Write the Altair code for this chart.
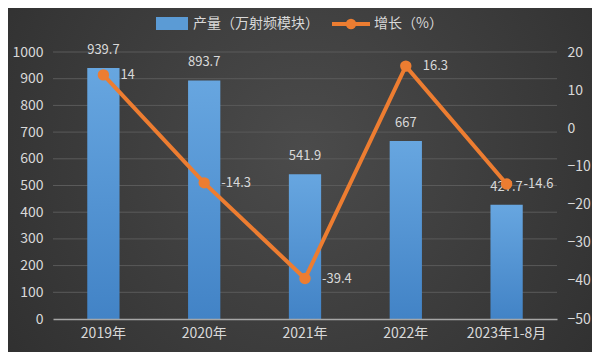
import altair as alt
import pandas as pd

categories = ["2019年", "2020年", "2021年", "2022年", "2023年1-8月"]
output = [939.7, 893.7, 541.9, 667, 427.7]
growth = [14, -14.3, -39.4, 16.3, -14.6]
left_ticks = [0, 100, 200, 300, 400, 500, 600, 700, 800, 900, 1000]
right_ticks = [-50, -40, -30, -20, -10, 0, 10, 20]
legend_names = ["产量（万射频模块）", "增长（%）"]

df = pd.DataFrame({"cat": categories, "output": output, "growth": growth})
df["out_label"] = [f"{v:g}" for v in output]
df["gr_label"] = [f"{v:g}" for v in growth]
grid_df = pd.DataFrame({"output": left_ticks[1:]})

FONT = "Noto Sans CJK SC"
TXT = "#d9d9d9"
ORANGE = "#ED7D31"

xenc = alt.X("cat:N", sort=categories, title=None,
             scale=alt.Scale(paddingInner=0.68, paddingOuter=0.34),
             axis=alt.Axis(labelAngle=0, labelColor=TXT, labelFontSize=14, labelFont=FONT,
                           ticks=False, domainColor="#a6a6a6", domainWidth=1.5, labelPadding=7,
                           zindex=1))

yleft_axis = alt.Axis(values=left_ticks, format="d", labelColor=TXT, labelFontSize=14, labelFont=FONT,
                      ticks=False, domain=False, grid=False, labelPadding=10, zindex=1,
                      labelOverlap=False, labelFlush=False)
yright_axis = alt.Axis(orient="right", values=right_ticks, format="d", labelColor=TXT, labelFontSize=14,
                       labelFont=FONT, ticks=False, domain=False, grid=False, labelPadding=10,
                       zindex=1, labelOverlap=False, labelFlush=False)
lscale = alt.Scale(domain=[0, 1000], nice=False)
rscale = alt.Scale(domain=[-50, 20], nice=False)

base = alt.Chart(df)

bg = alt.Chart(pd.DataFrame({"a": [0]})).mark_rect(
    color=alt.Gradient(gradient="radial", x1=0.5, y1=0.45, x2=0.5, y2=0.45, r1=0, r2=0.75,
                       stops=[alt.GradientStop(color="#4b4b4b", offset=0),
                              alt.GradientStop(color="#2a2a2a", offset=1)])
).encode(x=alt.value(-45), x2=alt.value(549), y=alt.value(-44), y2=alt.value(300))

grid = alt.Chart(grid_df).mark_rule(color="#5a5a5a", strokeWidth=1).encode(
    y=alt.Y("output:Q", title=None, scale=lscale, axis=yleft_axis), x=alt.value(0), x2=alt.value(504))

bars = base.mark_bar(
    color=alt.Gradient(gradient="linear", x1=0, y1=0, x2=0, y2=1,
                       stops=[alt.GradientStop(color="#67a6e0", offset=0),
                              alt.GradientStop(color="#4283c6", offset=1)])
).encode(x=xenc, y=alt.Y("output:Q", title=None, scale=lscale, axis=yleft_axis))

bar_text = base.mark_text(dy=-18, color=TXT, fontSize=13, font=FONT, baseline="middle").encode(
    x=alt.X("cat:N", sort=categories), y=alt.Y("output:Q", title=None, scale=lscale, axis=yleft_axis),
    text="out_label:N")

left = alt.layer(grid, bars, bar_text)

yr = alt.Y("growth:Q", title=None, scale=rscale, axis=yright_axis)
line = base.mark_line(color=ORANGE, strokeWidth=4).encode(x=alt.X("cat:N", sort=categories), y=yr)
pts = base.mark_circle(color=ORANGE, size=130, opacity=1).encode(x=alt.X("cat:N", sort=categories), y=yr)
line_text = base.mark_text(dx=17, align="left", baseline="middle", color=TXT, fontSize=13, font=FONT).encode(
    x=alt.X("cat:N", sort=categories), y=yr, text="gr_label:N")

right = alt.layer(line, pts, line_text)

leg = pd.DataFrame({"a": [0]})
leg_sw = alt.Chart(leg).mark_rect(color="#5b9bd5").encode(
    x=alt.value(103), x2=alt.value(135), y=alt.value(-35), y2=alt.value(-22))
leg_t1 = alt.Chart(leg).mark_text(align="left", baseline="middle", color=TXT, fontSize=14, font=FONT, text=legend_names[0]).encode(
    x=alt.value(140), y=alt.value(-28))
leg_line = alt.Chart(leg).mark_rule(color=ORANGE, strokeWidth=4).encode(
    x=alt.value(279), x2=alt.value(317), y=alt.value(-28))
leg_pt = alt.Chart(leg).mark_circle(color=ORANGE, size=110, opacity=1).encode(
    x=alt.value(298), y=alt.value(-28))
leg_t2 = alt.Chart(leg).mark_text(align="left", baseline="middle", color=TXT, fontSize=14, font=FONT, text=legend_names[1]).encode(
    x=alt.value(321), y=alt.value(-28))

legend = alt.layer(leg_sw, leg_t1, leg_line, leg_pt, leg_t2)

chart = alt.layer(bg, left, right, legend).resolve_scale(y="independent").properties(
    width=504, height=267,
    autosize=alt.AutoSizeParams(type="none"),
    padding={"left": 45, "top": 44, "right": 35, "bottom": 33},
    background="#2e2e2e",
).configure_view(stroke=None).configure_axis(labelOverlap=False, labelFlush=False)

chart.save("out.html", embed_options={"renderer": "svg", "actions": False})
